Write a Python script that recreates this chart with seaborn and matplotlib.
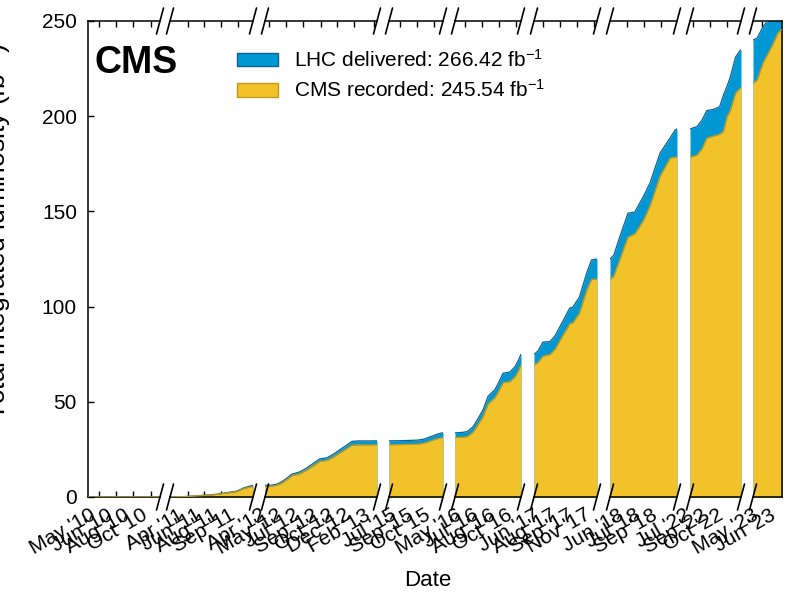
import matplotlib
matplotlib.use("Agg")
import matplotlib.pyplot as plt
from matplotlib.lines import Line2D
from matplotlib.patches import Patch
import pandas as pd
import seaborn as sns

# ---------------- data (cumulative, fb^-1) ----------------
dates_2010 = ["2010-04-07", "2010-05-15", "2010-06-30", "2010-08-15", "2010-09-30", "2010-10-29"]
deliv_2010 = [0.0, 0.0003, 0.002, 0.004, 0.02, 0.047]
recor_2010 = [0.0, 0.0003, 0.002, 0.003, 0.018, 0.043]

dates_2011 = ["2011-03-05", "2011-03-14", "2011-04-15", "2011-05-11", "2011-06-01", "2011-06-29", "2011-07-20",
              "2011-08-06", "2011-08-25", "2011-09-15", "2011-10-03", "2011-10-18", "2011-11-01"]
deliv_2011 = [0.047, 0.05, 0.2, 0.5, 0.8, 1.1, 1.5, 2.0, 2.5, 3.1, 4.6, 5.5, 6.15]
recor_2011 = [0.043, 0.046, 0.18, 0.46, 0.74, 1.01, 1.38, 1.84, 2.3, 2.86, 4.25, 5.0, 5.59]

dates_2012 = ["2012-03-22", "2012-04-10", "2012-04-26", "2012-05-10", "2012-05-25", "2012-06-08", "2012-06-20",
              "2012-07-01", "2012-07-22", "2012-08-10", "2012-08-28", "2012-09-18", "2012-10-05", "2012-10-25",
              "2012-11-12", "2012-11-29", "2012-12-16", "2013-01-20", "2013-02-10"]
deliv_2012 = [6.15, 6.2, 6.8, 8.0, 10.0, 12.0, 12.6, 13.2, 15.3, 17.8, 20.0, 20.6, 22.3, 24.8, 27.0, 29.2,
              29.45, 29.45, 29.5]
recor_2012 = [5.59, 5.64, 6.2, 7.3, 9.2, 11.1, 11.7, 12.2, 14.2, 16.5, 18.6, 19.2, 20.8, 23.1, 25.2, 27.2,
              27.4, 27.4, 27.45]

dates_2015 = ["2015-06-18", "2015-07-15", "2015-08-15", "2015-09-10", "2015-09-25", "2015-10-10", "2015-10-25",
              "2015-11-05", "2015-11-20", "2015-11-22"]
deliv_2015 = [29.5, 29.55, 29.7, 29.9, 30.3, 31.2, 32.2, 33.0, 33.7, 33.7]
recor_2015 = [27.45, 27.5, 27.6, 27.8, 28.2, 29.0, 29.9, 30.6, 31.2, 31.2]

dates_2016 = ["2016-04-21", "2016-05-10", "2016-05-26", "2016-06-12", "2016-06-26", "2016-07-11", "2016-07-26",
              "2016-08-15", "2016-08-25", "2016-09-07", "2016-09-27", "2016-10-12", "2016-10-22", "2016-10-29"]
deliv_2016 = [33.7, 33.9, 34.3, 36.8, 41.0, 45.7, 53.0, 56.5, 60.0, 65.0, 65.6, 68.5, 72.0, 75.0]
recor_2016 = [31.2, 31.4, 31.7, 34.0, 37.9, 42.2, 48.9, 52.2, 55.4, 60.0, 60.6, 63.2, 66.5, 69.3]

dates_2017 = ["2017-05-25", "2017-06-05", "2017-06-20", "2017-07-10", "2017-07-25", "2017-08-14", "2017-09-06",
              "2017-09-14", "2017-10-04", "2017-10-25", "2017-11-08", "2017-11-24"]
deliv_2017 = [75.0, 76.5, 81.4, 81.6, 84.6, 91.4, 99.3, 99.5, 105.0, 117.6, 124.5, 125.0]
recor_2017 = [69.3, 70.5, 74.0, 74.8, 77.5, 84.0, 91.0, 91.3, 96.5, 108.5, 114.3, 114.5]

dates_2018 = ["2018-04-22", "2018-05-03", "2018-05-21", "2018-06-13", "2018-07-03", "2018-07-27", "2018-08-16",
              "2018-09-14", "2018-10-13", "2018-10-28", "2018-11-02"]
deliv_2018 = [125.0, 127.0, 137.0, 149.0, 149.7, 157.6, 165.0, 180.7, 188.6, 192.8, 193.3]
recor_2018 = [114.5, 116.0, 125.0, 136.5, 138.2, 145.0, 153.0, 168.5, 178.0, 178.5, 178.6]

dates_2022 = ["2022-07-11", "2022-07-31", "2022-08-15", "2022-08-29", "2022-09-16", "2022-10-05", "2022-10-16",
              "2022-10-27", "2022-11-05", "2022-11-20", "2022-12-04", "2022-12-06"]
deliv_2022 = [193.3, 194.5, 198.0, 203.0, 203.5, 205.0, 211.0, 216.0, 220.6, 231.0, 234.7, 234.7]
recor_2022 = [178.6, 179.5, 183.0, 188.5, 189.5, 190.5, 192.0, 200.0, 203.0, 212.0, 214.8, 214.8]

dates_2023 = ["2023-04-14", "2023-04-26", "2023-05-13", "2023-05-28", "2023-06-11", "2023-06-26", "2023-07-07"]
deliv_2023 = [240.0, 241.0, 247.0, 250.5, 256.0, 262.0, 266.42]
recor_2023 = [217.4, 219.0, 228.0, 233.0, 238.0, 244.0, 245.54]

# x-range and tick dates of each broken-axis segment
seg_xlim = [("2010-04-07", "2010-10-29"), ("2011-03-05", "2011-11-01"), ("2012-03-22", "2013-02-10"),
            ("2015-06-18", "2015-11-22"), ("2016-04-21", "2016-10-29"), ("2017-05-25", "2017-11-24"),
            ("2018-04-22", "2018-11-02"), ("2022-07-11", "2022-12-06"), ("2023-04-14", "2023-07-07")]
seg_ticks = [["2010-05-08", "2010-06-26", "2010-08-14", "2010-10-02"],
             ["2011-04-25", "2011-06-13", "2011-08-01", "2011-09-19"],
             ["2012-04-03", "2012-05-22", "2012-07-10", "2012-09-01", "2012-10-18", "2012-12-05", "2013-02-01"],
             ["2015-07-20", "2015-09-07", "2015-10-26"],
             ["2016-05-20", "2016-07-08", "2016-08-26", "2016-10-14"],
             ["2017-06-20", "2017-08-08", "2017-09-26", "2017-11-14"],
             ["2018-06-10", "2018-07-29", "2018-09-16"],
             ["2022-07-20", "2022-09-07", "2022-10-26"],
             ["2023-05-10", "2023-06-28"]]

segments = [(dates_2010, deliv_2010, recor_2010), (dates_2011, deliv_2011, recor_2011),
            (dates_2012, deliv_2012, recor_2012), (dates_2015, deliv_2015, recor_2015),
            (dates_2016, deliv_2016, recor_2016), (dates_2017, deliv_2017, recor_2017),
            (dates_2018, deliv_2018, recor_2018), (dates_2022, deliv_2022, recor_2022),
            (dates_2023, deliv_2023, recor_2023)]

y_ticks = [0, 50, 100, 150, 200, 250]
label_deliv = r"LHC delivered: 266.42 fb$^{-1}$"
label_recor = r"CMS recorded: 245.54 fb$^{-1}$"

# ---------------- style ----------------
sns.set_theme(style="ticks")
FONT = ["Liberation Sans", "DejaVu Sans"]
plt.rcParams["font.family"] = FONT
plt.rcParams["mathtext.fontset"] = "custom"
plt.rcParams["mathtext.rm"] = "Liberation Sans"
plt.rcParams["mathtext.it"] = "Liberation Sans:italic"
plt.rcParams["mathtext.bf"] = "Liberation Sans:bold"
for k in ("text.color", "axes.labelcolor", "xtick.color", "ytick.color", "axes.edgecolor"):
    plt.rcParams[k] = "black"

BLUE, BLUE_EDGE = "#0098d4", "#0b628f"
YELL, YELL_EDGE = "#f1c22a", "#c49a18"

W, H = 790, 594
seg_px = [(88, 160), (170, 253), (265, 377), (389, 443), (455, 521), (534, 597), (610, 677), (690, 741), (753, 782)]
Y_TOP, Y_BOT = 21, 497

fig = plt.figure(figsize=(W / 100, H / 100), dpi=100)
fig.patch.set_facecolor("white")

axes = []
n = len(seg_px)
for i, ((l, r), (d, dv, rc), xl, tk) in enumerate(zip(seg_px, segments, seg_xlim, seg_ticks)):
    ax = fig.add_axes([l / W, 1 - Y_BOT / H, (r - l) / W, (Y_BOT - Y_TOP) / H])
    ax.set_facecolor("white")
    x = pd.to_datetime(d)
    ax.fill_between(x, 0, dv, color=BLUE, linewidth=0, zorder=1)
    ax.fill_between(x, 0, rc, color=YELL, linewidth=0, zorder=2)
    sns.lineplot(x=x, y=dv, ax=ax, color=BLUE_EDGE, linewidth=0.9, legend=False,
                 estimator=None, sort=False, zorder=3)
    sns.lineplot(x=x, y=rc, ax=ax, color=YELL_EDGE, linewidth=0.9, legend=False,
                 estimator=None, sort=False, zorder=3)
    ax.set_xlim(pd.Timestamp(xl[0]), pd.Timestamp(xl[1]))
    ax.set_ylim(0, 250)
    tdates = pd.to_datetime(tk)
    ax.set_xticks(tdates)
    ax.set_xticklabels([t.strftime("%b '%y") for t in tdates], rotation=30, ha="right", color="black")
    ax.tick_params(axis="x", direction="in", top=True, bottom=True, length=4.5, width=1,
                   labelsize=15, pad=6, colors="black")
    ax.set_xlabel("")
    ax.set_ylabel("")
    for s in ax.spines.values():
        s.set_linewidth(1.1)
        s.set_color("black")
    if i > 0:
        ax.spines["left"].set_visible(False)
        ax.set_yticks([])
    else:
        ax.set_yticks(y_ticks)
        ax.tick_params(axis="y", direction="in", left=True, right=False, length=4.5, width=1,
                       labelsize=15, pad=8, colors="black")
    if i < n - 1:
        ax.spines["right"].set_visible(False)
    ax.grid(False)
    axes.append(ax)

# break marks
def slash(xp, yp):
    fig.add_artist(Line2D([(xp - 3.5) / W, (xp + 3.5) / W], [1 - (yp + 13) / H, 1 - (yp - 13) / H],
                          transform=fig.transFigure, color="black", linewidth=1.2, clip_on=False))

for i in range(n - 1):
    for xp in (seg_px[i][1], seg_px[i + 1][0]):
        for yp in (Y_TOP, Y_BOT):
            slash(xp, yp)

# texts
fig.text(95 / W, 1 - 63 / H, "CMS", fontsize=27, fontweight="bold", ha="left", va="center", color="black")
fig.text(428 / W, 1 - 580 / H, "Date", fontsize=16, ha="center", va="center", color="black")
fig.text(14 / W, 1 - 420 / H, r"Total integrated luminosity (fb$^{-1}$)", fontsize=19,
         rotation=90, ha="right", va="bottom", color="black")

handles = [Patch(facecolor=BLUE, edgecolor=BLUE_EDGE, linewidth=1),
           Patch(facecolor=YELL, edgecolor=YELL_EDGE, linewidth=1)]
fig.legend(handles, [label_deliv, label_recor], loc="upper left",
           bbox_to_anchor=(237 / W, 1 - 49 / H), frameon=False, borderpad=0, borderaxespad=0,
           handlelength=1.95, handleheight=0.62, handletextpad=0.8, labelspacing=0.4, fontsize=15,
           labelcolor="black")

fig.savefig("out.png", dpi=100, facecolor="white")
